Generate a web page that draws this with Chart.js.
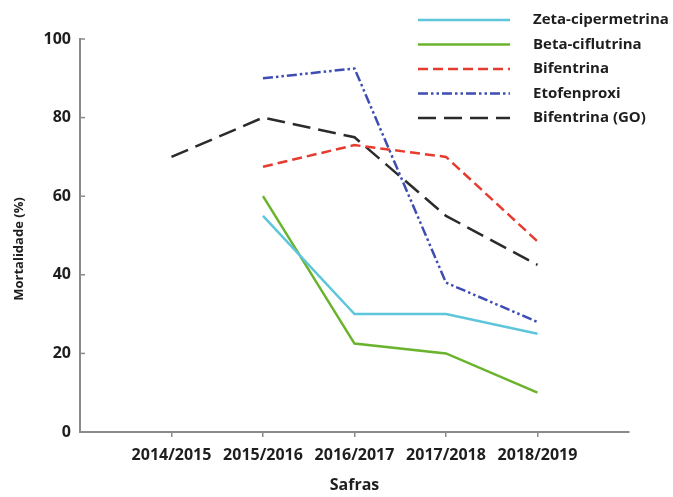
<!DOCTYPE html>
<html>
<head>
<meta charset="utf-8">
<script src="https://cdn.jsdelivr.net/npm/chart.js@4/dist/chart.umd.min.js"></script>
<style>
  html, body { margin: 0; padding: 0; background: #fff; }
  #wrap { width: 673px; height: 497px; }
</style>
</head>
<body>
<div id="wrap"><canvas id="chart"></canvas></div>
<script>
  // Safras (eixo X)
  const safras = ['2014/2015', '2015/2016', '2016/2017', '2017/2018', '2018/2019'];
  const yTicks = [0, 20, 40, 60, 80, 100];

  // Mortalidade (%) por inseticida
  const zetaCipermetrina = [null, 55, 30, 30, 25];
  const betaCiflutrina = [null, 60, 22.5, 20, 10];
  const bifentrina = [null, 67.5, 73, 70, 48.5];
  const etofenproxi = [null, 90, 92.5, 38, 28];
  const bifentrinaGO = [70, 80, 75, 55, 42.5];

  // posição 1..5 no eixo linear (0 e 6 ficam vazios nas pontas)
  const toPoints = arr => arr.map((v, i) => ({ x: i + 1, y: v }));

  const FONT = '"Open Sans", "DejaVu Sans", sans-serif';

  // legenda desenhada à mão (vertical, sobre o canto superior direito)
  const legendPlugin = {
    id: 'legendaManual',
    afterDraw(chart) {
      const ctx = chart.ctx;
      ctx.save();
      chart.data.datasets.forEach((ds, i) => {
        const y = 20 + i * 24.5;
        ctx.beginPath();
        ctx.setLineDash(ds.borderDash || []);
        ctx.strokeStyle = ds.borderColor;
        ctx.lineWidth = ds.borderWidth;
        ctx.moveTo(418, y);
        ctx.lineTo(510, y);
        ctx.stroke();
        ctx.setLineDash([]);
        ctx.fillStyle = '#1e1e1e';
        ctx.font = 'bold 15px ' + FONT;
        ctx.textBaseline = 'middle';
        ctx.fillText(ds.label, 533, y);
      });

      // marcas do eixo Y voltadas para dentro
      const ys = chart.scales.y;
      ctx.strokeStyle = '#8a8a8a';
      ctx.lineWidth = 1.5;
      ys.ticks.forEach(t => {
        const py = ys.getPixelForValue(t.value);
        ctx.beginPath();
        ctx.moveTo(ys.right, py);
        ctx.lineTo(ys.right + 5, py);
        ctx.stroke();
      });
      ctx.restore();
    },
  };

  new Chart(document.getElementById('chart'), {
    type: 'line',
    data: {
      datasets: [
        { label: 'Zeta-cipermetrina', data: toPoints(zetaCipermetrina), borderColor: '#5ec6da', borderWidth: 2.5 },
        { label: 'Beta-ciflutrina', data: toPoints(betaCiflutrina), borderColor: '#69b42c', borderWidth: 2.5 },
        { label: 'Bifentrina', data: toPoints(bifentrina), borderColor: '#e63b2f', borderWidth: 2.5, borderDash: [10, 5] },
        { label: 'Etofenproxi', data: toPoints(etofenproxi), borderColor: '#3e4db3', borderWidth: 2.5, borderDash: [10, 3, 2.5, 3, 2.5, 3] },
        { label: 'Bifentrina (GO)', data: toPoints(bifentrinaGO), borderColor: '#2b2b2b', borderWidth: 2.5, borderDash: [18, 8] },
      ],
    },
    options: {
      responsive: true,
      maintainAspectRatio: false,
      animation: false,
      layout: { padding: { left: 0, top: 39, right: 44, bottom: 0 } },
      elements: { point: { radius: 0 }, line: { tension: 0 } },
      plugins: { legend: { display: false }, tooltip: { enabled: false } },
      scales: {
        x: {
          type: 'linear',
          min: 0,
          max: 6,
          afterFit: s => { s.height = 65; },
          border: { color: '#8a8a8a', width: 2 },
          grid: {
            drawOnChartArea: false,
            tickLength: 5,
            lineWidth: 1.5,
            // só as safras têm marca
            color: c => (c.tick && c.tick.value >= 1 && c.tick.value <= 5 ? '#8a8a8a' : 'rgba(0,0,0,0)'),
          },
          ticks: {
            stepSize: 1,
            autoSkip: false,
            maxRotation: 0,
            padding: 9,
            color: '#1e1e1e',
            font: { family: FONT, size: 16, weight: 'bold' },
            callback: v => safras[v - 1] || '',
          },
          title: {
            display: true,
            text: 'Safras',
            color: '#1e1e1e',
            font: { family: FONT, size: 16, weight: 'bold' },
            padding: { top: 0, bottom: 2 },
          },
        },
        y: {
          min: 0,
          max: 100,
          afterFit: s => { s.width = 80; },
          afterBuildTicks: s => { s.ticks = yTicks.map(v => ({ value: v })); },
          border: { color: '#8a8a8a', width: 2 },
          grid: { display: false, drawTicks: false },
          ticks: {
            padding: 9,
            color: '#1e1e1e',
            font: { family: FONT, size: 16, weight: 'bold' },
          },
          title: {
            display: true,
            // espaços no fim empurram o texto um pouco para baixo, como no original
            text: 'Mortalidade (%)        ',
            color: '#1e1e1e',
            font: { family: FONT, size: 13, weight: 'bold' },
            padding: { top: 11, bottom: 0 },
          },
        },
      },
    },
    plugins: [legendPlugin],
  });
</script>
</body>
</html>
